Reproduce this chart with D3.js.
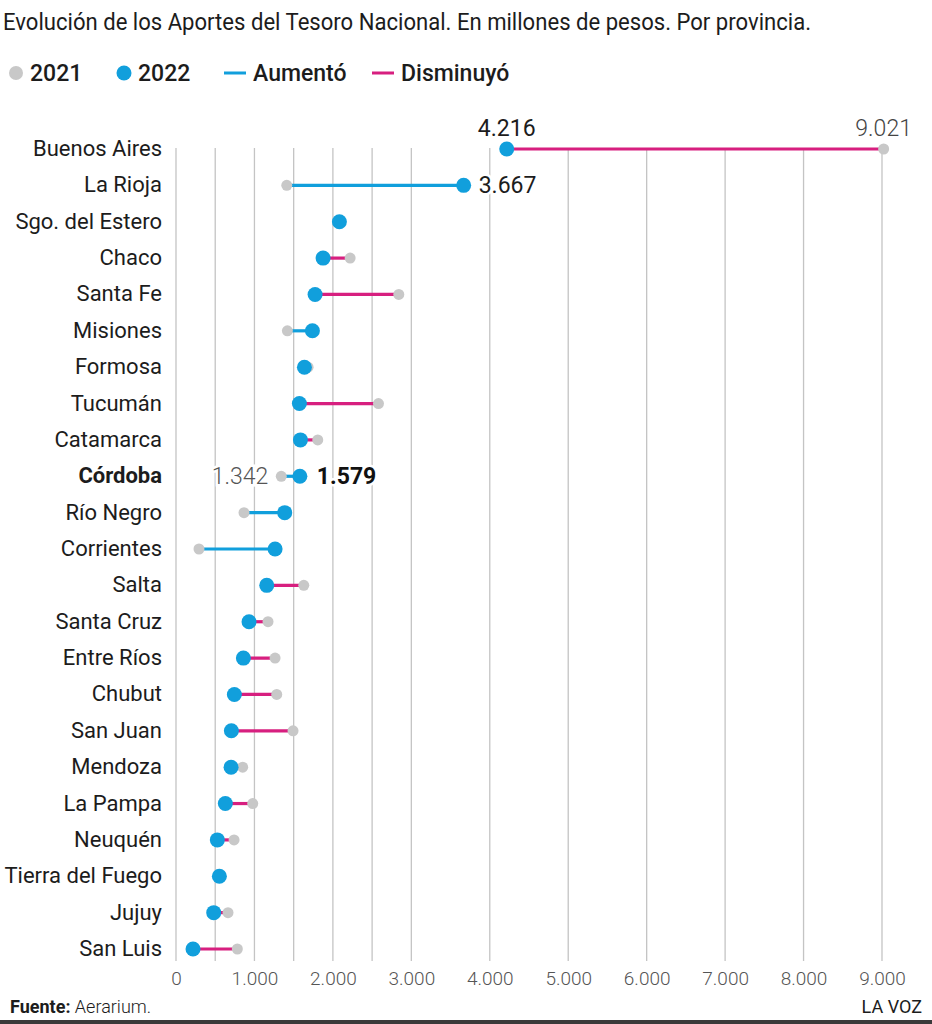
<!DOCTYPE html>
<html>
<head>
<meta charset="utf-8">
<script src="https://cdn.jsdelivr.net/npm/d3@7"></script>
<style>
  body { margin: 0; background: #fff; }
  svg text { font-family: Roboto, "Noto Sans", sans-serif; }
</style>
</head>
<body>
<div id="holder"></div>
<script>
// datos (millones de pesos)
var provincias = ["Buenos Aires", "La Rioja", "Sgo. del Estero", "Chaco", "Santa Fe", "Misiones", "Formosa",
  "Tucumán", "Catamarca", "Córdoba", "Río Negro", "Corrientes", "Salta", "Santa Cruz", "Entre Ríos",
  "Chubut", "San Juan", "Mendoza", "La Pampa", "Neuquén", "Tierra del Fuego", "Jujuy", "San Luis"];
var v2021 = [9021, 1412, 2075, 2220, 2840, 1420, 1684, 2581, 1807, 1342, 867, 293, 1629, 1173, 1263,
  1284, 1492, 850, 978, 740, 545, 663, 782];
var v2022 = [4216, 3667, 2083, 1875, 1773, 1739, 1637, 1573, 1586, 1579, 1386, 1263, 1157, 931, 859,
  744, 706, 702, 629, 527, 553, 481, 217];
var ticks = [0, 1000, 2000, 3000, 4000, 5000, 6000, 7000, 8000, 9000];
var gridVals = [0, 500, 1000, 1500, 2000, 2500, 3000, 4000, 5000, 6000, 7000, 8000, 9000];

var azul = "#119fdc", rosa = "#d71f7f", gris = "#c8c8c8", texto = "#1c1c1c";
var W = 932, H = 1024;

var svg = d3.select('#holder').append('svg').attr('width', W).attr('height', H);

var x = d3.scaleLinear().domain([0, 9000]).range([176, 882]);
var y = d3.scalePoint().domain(provincias).range([149, 949]);

var fmt = function(v) { return d3.format(",")(v).replace(/,/g, "."); };

// titulo
svg.append('text').attr('x', 3).attr('y', 30)
  .attr('font-size', 23).attr('fill', texto)
  .attr('textLength', 808).attr('lengthAdjust', 'spacingAndGlyphs')
  .text("Evolución de los Aportes del Tesoro Nacional. En millones de pesos. Por provincia.");

// leyenda
var ley = svg.append('g').attr('font-size', 23).attr('font-weight', 500).attr('fill', texto);
ley.append('circle').attr('cx', 16).attr('cy', 73).attr('r', 7).style('fill', gris);
ley.append('text').attr('x', 30).attr('y', 81).text("2021");
ley.append('circle').attr('cx', 124).attr('cy', 73).attr('r', 7.5).style('fill', azul);
ley.append('text').attr('x', 138).attr('y', 81).text("2022");
ley.append('line').attr('x1', 224).attr('x2', 246).attr('y1', 73).attr('y2', 73)
  .style('stroke', azul).style('stroke-width', 3);
ley.append('text').attr('x', 253).attr('y', 81).text("Aumentó");
ley.append('line').attr('x1', 372).attr('x2', 394).attr('y1', 73).attr('y2', 73)
  .style('stroke', rosa).style('stroke-width', 3);
ley.append('text').attr('x', 401).attr('y', 81).text("Disminuyó");

// grilla
svg.append('g').selectAll('line').data(gridVals).enter().append('line')
  .attr('x1', d => x(d)).attr('x2', d => x(d))
  .attr('y1', 148).attr('y2', 961)
  .style('stroke', '#c4c4c4').style('stroke-width', 1.3);

// eje x
var axis = d3.axisBottom(x).tickValues(ticks).tickSize(0).tickFormat(fmt);
var gx = svg.append('g').attr('transform', 'translate(0,965)').call(axis);
gx.select('.domain').remove();
gx.selectAll('text').attr('font-size', 19).attr('fill', '#555').attr('dy', '0.9em')
  .style('font-family', 'Roboto, sans-serif').style('font-weight', 300);

// nombres de provincias
svg.append('g').selectAll('text').data(provincias).enter().append('text')
  .attr('x', 162).attr('y', d => y(d) + 7)
  .attr('text-anchor', 'end').attr('font-size', 22).attr('fill', texto)
  .attr('font-weight', d => d === "Córdoba" ? 700 : 400)
  .text(d => d);

// lineas de variacion
var filas = provincias.map(function(p, i) { return { p: p, a: v2021[i], b: v2022[i] }; });
svg.append('g').selectAll('line').data(filas).enter().append('line')
  .attr('x1', d => x(d.a)).attr('x2', d => x(d.b))
  .attr('y1', d => y(d.p)).attr('y2', d => y(d.p))
  .style('stroke', d => d.b > d.a ? azul : rosa).style('stroke-width', 3.2);

svg.append('g').selectAll('circle').data(filas).enter().append('circle')
  .attr('cx', d => x(d.a)).attr('cy', d => y(d.p)).attr('r', 5.5).style('fill', gris);
svg.append('g').selectAll('circle').data(filas).enter().append('circle')
  .attr('cx', d => x(d.b)).attr('cy', d => y(d.p)).attr('r', 7.5).style('fill', azul);

// etiquetas destacadas
function etiqueta(tx, ty, t, anchor, size, weight, col) {
  var el = svg.append('text').attr('x', tx).attr('y', ty).attr('text-anchor', anchor)
    .attr('font-size', size).attr('font-weight', weight).attr('fill', col)
    .style('paint-order', 'stroke').style('stroke', '#fff').style('stroke-width', 5)
    .text(t);
  return el;
}
var ba = filas[0], lr = filas[1], co = filas[9];
etiqueta(x(ba.b), y(ba.p) - 13, fmt(ba.b), 'middle', 23, 400, texto);
etiqueta(x(ba.a), y(ba.p) - 13, fmt(ba.a), 'middle', 23, 300, '#444');
etiqueta(x(lr.b) + 15, y(lr.p) + 8, fmt(lr.b), 'start', 23, 400, texto);
etiqueta(x(co.a) - 13, y(co.p) + 8, fmt(co.a), 'end', 23, 300, '#555');
etiqueta(x(co.b) + 17, y(co.p) + 8, fmt(co.b), 'start', 23, 700, '#111');

// pie
svg.append('text').attr('x', 10).attr('y', 1013).attr('font-size', 18).attr('fill', texto)
  .call(function(t) {
    t.append('tspan').attr('font-weight', 700).text("Fuente:");
    t.append('tspan').attr('font-weight', 300).text(" Aerarium.");
  });
svg.append('text').attr('x', 922).attr('y', 1013).attr('text-anchor', 'end')
  .attr('font-size', 18).attr('fill', texto).text("LA VOZ");
svg.append('rect').attr('x', 0).attr('y', 1020).attr('width', W).attr('height', 4).style('fill', '#3a3a3a');
</script>
</body>
</html>
